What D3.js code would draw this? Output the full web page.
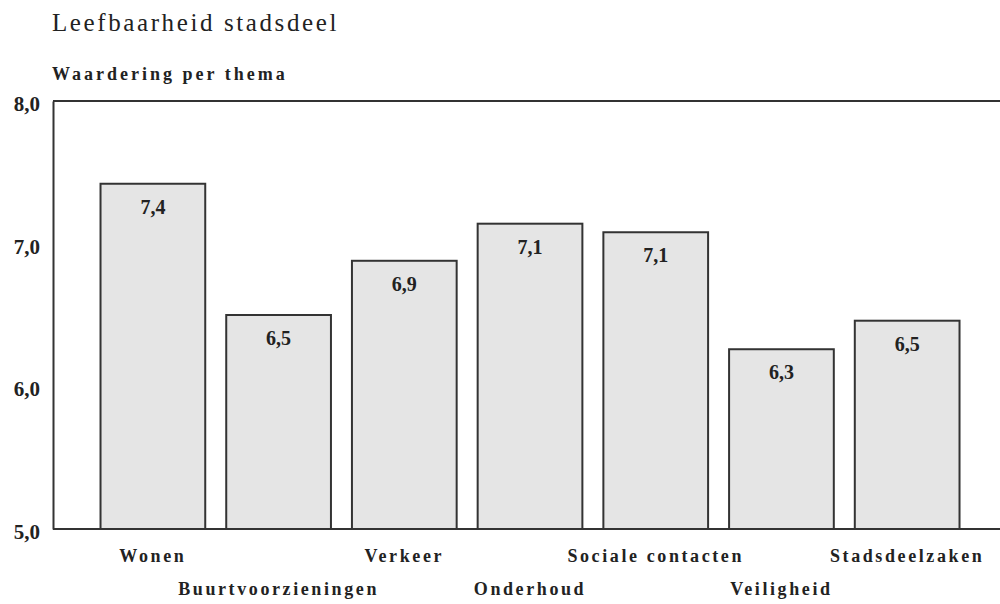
<!DOCTYPE html>
<html>
<head>
<meta charset="utf-8">
<script src="https://cdn.jsdelivr.net/npm/d3@7"></script>
<style>
  body { margin: 0; background: #fff; }
  svg { font-family: "Liberation Serif", "Times New Roman", serif; }
</style>
</head>
<body>
<div id="chart"></div>
<script>
var themes = ["Wonen", "Buurtvoorzieningen", "Verkeer", "Onderhoud", "Sociale contacten", "Veiligheid", "Stadsdeelzaken"];
var scores = [7.42, 6.50, 6.88, 7.14, 7.08, 6.26, 6.46];
var yTicks = [5, 6, 7, 8];

var width = 1000, height = 604;
var margin = { top: 101, right: 0, bottom: 75, left: 53 };

var svg = d3.select('#chart').append('svg')
    .attr('width', width)
    .attr('height', height);

// titles
svg.append('text')
    .attr('x', 52).attr('y', 31)
    .style('font-size', '25px')
    .style('letter-spacing', '2.6px')
    .attr('fill', '#222')
    .text('Leefbaarheid stadsdeel');

svg.append('text')
    .attr('x', 52).attr('y', 80)
    .style('font-size', '18px')
    .style('font-weight', 'bold')
    .style('letter-spacing', '3px')
    .attr('fill', '#222')
    .text('Waardering per thema');

var x = d3.scaleBand()
    .domain(themes)
    .range([margin.left, width])
    .paddingInner(0.167)
    .paddingOuter(0.35)
    .align(0.54);

var y = d3.scaleLinear()
    .domain([5, 8])
    .range([height - margin.bottom, margin.top]);

var fmt = function(v) { return d3.format('.1f')(v).replace('.', ','); };

// frame lines
var g = svg.append('g');
g.append('line')
    .attr('x1', margin.left).attr('x2', width)
    .attr('y1', y(8)).attr('y2', y(8))
    .attr('stroke', '#333').attr('stroke-width', 2);

// bars
g.selectAll('rect.bar')
    .data(scores)
    .enter().append('rect')
    .attr('class', 'bar')
    .attr('x', function(d, i) { return x(themes[i]); })
    .attr('y', function(d) { return y(d); })
    .attr('width', x.bandwidth())
    .attr('height', function(d) { return y(5) - y(d); })
    .attr('fill', '#e5e5e5')
    .attr('stroke', '#333')
    .attr('stroke-width', 2);

// value labels inside bars
g.selectAll('text.val')
    .data(scores)
    .enter().append('text')
    .attr('class', 'val')
    .attr('x', function(d, i) { return x(themes[i]) + x.bandwidth() / 2; })
    .attr('y', function(d) { return y(d) + 30; })
    .attr('text-anchor', 'middle')
    .style('font-size', '20px')
    .style('font-weight', 'bold')
    .attr('fill', '#222')
    .text(fmt);

// y axis
var yAxis = d3.axisLeft(y)
    .tickValues(yTicks)
    .tickSize(0)
    .tickPadding(13)
    .tickFormat(function(d) { return d3.format('.1f')(d).replace('.', ','); });

var ya = svg.append('g')
    .attr('transform', 'translate(' + margin.left + ',0)')
    .call(yAxis);
ya.select('.domain').attr('stroke', '#333').attr('stroke-width', 2);
ya.selectAll('text')
    .attr('dy', '0.45em')
    .style('font-family', '"Liberation Serif", serif')
    .style('font-size', '21px')
    .style('font-weight', 'bold')
    .attr('fill', '#222');

// x axis baseline and staggered labels
var xAxis = d3.axisBottom(x).tickSize(0).tickPadding(0);
var xa = svg.append('g')
    .attr('transform', 'translate(0,' + y(5) + ')')
    .call(xAxis);
xa.select('.domain').attr('stroke', '#333').attr('stroke-width', 2)
    .attr('d', 'M' + margin.left + ',0H' + width);
xa.selectAll('text')
    .attr('dy', null)
    .attr('y', function(d, i) { return i % 2 === 0 ? 33 : 66; })
    .style('font-family', '"Liberation Serif", serif')
    .style('font-size', '18px')
    .style('font-weight', 'bold')
    .style('letter-spacing', '2.6px')
    .attr('fill', '#222');
</script>
</body>
</html>
